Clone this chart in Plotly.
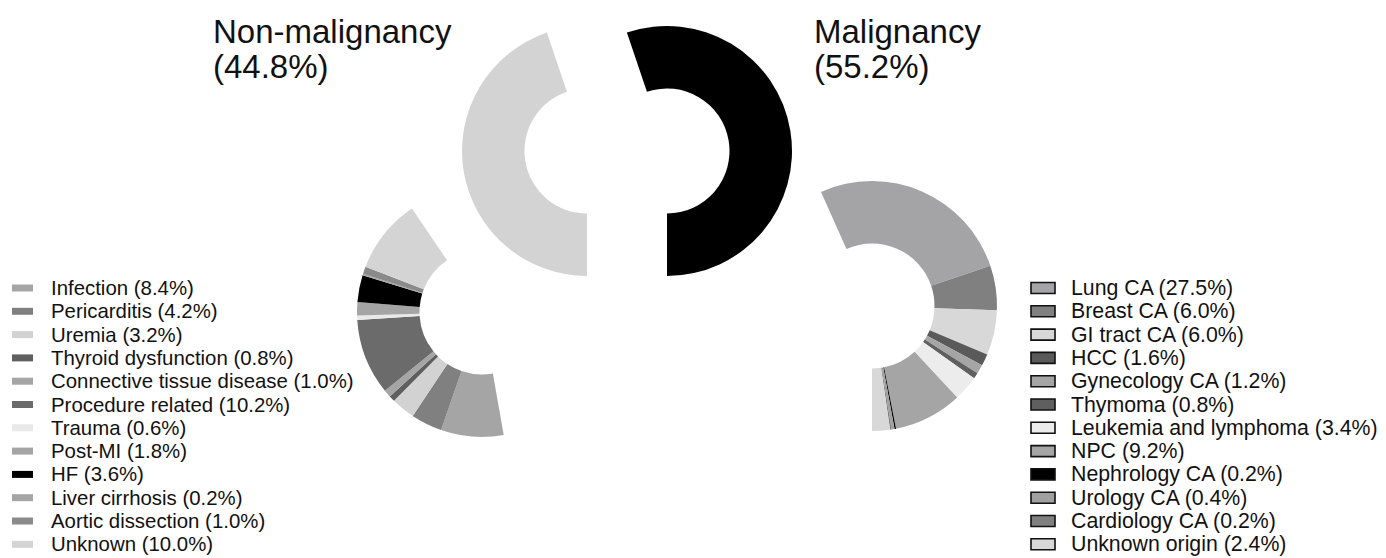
import plotly.graph_objects as go

# ---- data -------------------------------------------------------------
group_names = ["Non-malignancy", "Malignancy"]
group_share = [44.8, 55.2]
group_colors = ["#d3d3d3", "#000000"]

nonmal_labels = [
    "Infection", "Pericarditis", "Uremia", "Thyroid dysfunction",
    "Connective tissue disease", "Procedure related", "Trauma", "Post-MI",
    "HF", "Liver cirrhosis", "Aortic dissection", "Unknown",
]
nonmal_values = [8.4, 4.2, 3.2, 0.8, 1.0, 10.2, 0.6, 1.8, 3.6, 0.2, 1.0, 10.0]
nonmal_colors = [
    "#a5a5a5", "#808080", "#d2d2d2", "#5f5f5f", "#a5a5a5", "#6b6b6b",
    "#e9e9e9", "#a5a5a5", "#000000", "#a5a5a5", "#8a8a8a", "#d4d4d4",
]

mal_labels = [
    "Lung CA", "Breast CA", "GI tract CA", "HCC", "Gynecology CA", "Thymoma",
    "Leukemia and lymphoma", "NPC", "Nephrology CA", "Urology CA",
    "Cardiology CA", "Unknown origin",
]
mal_values = [27.5, 6.0, 6.0, 1.6, 1.2, 0.8, 3.4, 9.2, 0.2, 0.4, 0.2, 2.4]
mal_colors = [
    "#a4a4a7", "#808080", "#d8d8d8", "#5a5a5a", "#a5a5a5", "#5f5f5f",
    "#ececec", "#a5a5a5", "#000000", "#a0a0a0", "#808080", "#d8d8d8",
]

# ---- layout helpers (pixel -> paper) -----------------------------------
W, H = 1386, 558
CLEAR = "rgba(0,0,0,0)"
FONT = "Liberation Sans, Arial, sans-serif"


def px(x):
    return x / W


def py(y):
    return 1 - y / H


def dom(cx, cy, r):
    return dict(x=[px(cx - r), px(cx + r)], y=[py(cy + r), py(cy - r)])


def ring(labels, values, colors, cx, cy, rotation):
    return go.Pie(
        labels=labels,
        values=values,
        marker=dict(colors=colors, line=dict(width=0)),
        hole=0.5,
        sort=False,
        direction="clockwise",
        rotation=rotation,
        textinfo="none",
        hoverinfo="label+value",
        domain=dom(cx, cy, 125),
        showlegend=False,
    )


fig = go.Figure()

# top split ring: the two groups pulled apart horizontally
fig.add_trace(ring(group_names, group_share, [group_colors[0], CLEAR], 587, 151, 180))
fig.add_trace(ring(group_names, group_share, [CLEAR, group_colors[1]], 667, 151, 180))

# breakdown rings: each shows its own group, the other group left blank
nonmal_total = sum(nonmal_values)
mal_total = sum(mal_values)
fig.add_trace(ring(nonmal_labels + ["Malignancy"],
                   nonmal_values + [mal_total],
                   nonmal_colors + [CLEAR], 482, 312, 170))
fig.add_trace(ring(["Non-malignancy"] + mal_labels,
                   [nonmal_total] + mal_values,
                   [CLEAR] + mal_colors, 872, 306, 180))

annotations = []
shapes = []

# group titles
title_x = [211, 812]
for name, share, tx in zip(group_names, group_share, title_x):
    annotations.append(dict(x=px(tx), y=py(31), xref="paper", yref="paper",
                            xanchor="left", yanchor="middle", showarrow=False,
                            text=name, font=dict(family=FONT, size=33, color="#111")))
    annotations.append(dict(x=px(tx), y=py(66), xref="paper", yref="paper",
                            xanchor="left", yanchor="middle", showarrow=False,
                            text=f"({share:.1f}%)",
                            font=dict(family=FONT, size=33, color="#111")))

# legends
ROW0, ROW_STEP = 288, 23.3
for i, (lab, val, col) in enumerate(zip(nonmal_labels, nonmal_values, nonmal_colors)):
    cy = ROW0 + i * ROW_STEP
    shapes.append(dict(type="rect", xref="paper", yref="paper",
                       x0=px(12), x1=px(33), y0=py(cy + 3.5), y1=py(cy - 3.5),
                       fillcolor=col, line=dict(width=0)))
    annotations.append(dict(x=px(49), y=py(cy), xref="paper", yref="paper",
                            xanchor="left", yanchor="middle", showarrow=False,
                            text=f"{lab} ({val:.1f}%)",
                            font=dict(family=FONT, size=20.4, color="#111")))

for i, (lab, val, col) in enumerate(zip(mal_labels, mal_values, mal_colors)):
    cy = ROW0 + i * ROW_STEP
    shapes.append(dict(type="rect", xref="paper", yref="paper",
                       x0=px(1031), x1=px(1055), y0=py(cy + 5.5), y1=py(cy - 5.5),
                       fillcolor=col, line=dict(width=1.6, color="#111")))
    annotations.append(dict(x=px(1069), y=py(cy), xref="paper", yref="paper",
                            xanchor="left", yanchor="middle", showarrow=False,
                            text=f"{lab} ({val:.1f}%)",
                            font=dict(family=FONT, size=21.3, color="#111")))

fig.update_layout(
    width=W, height=H,
    margin=dict(l=0, r=0, t=0, b=0),
    paper_bgcolor="white", plot_bgcolor="white",
    annotations=annotations,
    shapes=shapes,
)

fig.write_html("out.html")
